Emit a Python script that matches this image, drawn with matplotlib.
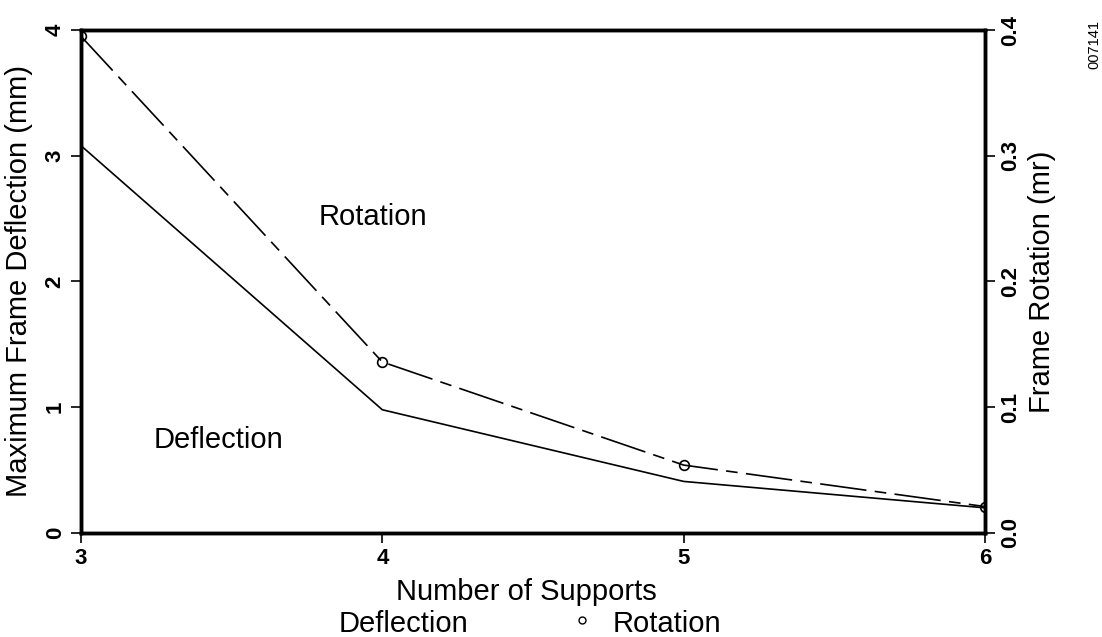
import matplotlib
matplotlib.use("Agg")
import matplotlib.pyplot as plt
from matplotlib.lines import Line2D

plt.rcParams['font.family'] = ['Liberation Sans', 'DejaVu Sans']

supports = [3, 4, 5, 6]
deflection_mm = [3.08, 0.98, 0.41, 0.20]
rotation_mr = [0.395, 0.136, 0.054, 0.021]

x_ticks = [3, 4, 5, 6]
left_ticks = [0, 1, 2, 3, 4]
left_tick_labels = ['0', '1', '2', '3', '4']
right_ticks = [0.0, 0.1, 0.2, 0.3, 0.4]
right_tick_labels = ['0.0', '0.1', '0.2', '0.3', '0.4']

LABEL_SIZE = 21
TICK_SIZE = 16

fig = plt.figure(figsize=(11.02, 6.37), dpi=100)
ax = fig.add_axes([0.0735, 0.1633, 0.8203, 0.7896])
ax2 = ax.twinx()

ax.plot(supports, deflection_mm, color='black', lw=1.2, solid_joinstyle='miter')
rot_line, = ax2.plot(supports, rotation_mr, color='black', lw=1.2,
                     marker='o', markersize=7, markerfacecolor='none',
                     markeredgewidth=1.2)
rot_line.set_dashes([28, 5, 7, 5])

ax.set_xlim(3, 6)
ax.set_ylim(0, 4)
ax2.set_ylim(0, 0.4)

ax.set_xticks(x_ticks)
ax.set_xticklabels([str(v) for v in x_ticks], fontsize=TICK_SIZE, fontweight='bold')
ax.set_yticks(left_ticks)
ax.set_yticklabels(left_tick_labels, fontsize=TICK_SIZE, fontweight='bold',
                   rotation=90, va='center')
ax2.set_yticks(right_ticks)
ax2.set_yticklabels(right_tick_labels, fontsize=TICK_SIZE, fontweight='bold',
                    rotation=90, va='center')

for a in (ax, ax2):
    for s in a.spines.values():
        s.set_linewidth(2.5)
    a.tick_params(direction='out', length=7, width=1.2, pad=4)

ax.set_xlabel('Number of Supports', fontsize=LABEL_SIZE, va='center')
ax.xaxis.set_label_coords(0.493, -0.117)
ax.set_ylabel('Maximum Frame Deflection (mm)', fontsize=LABEL_SIZE, va='center')
ax.yaxis.set_label_coords(-0.069, 0.5)
ax2.set_ylabel('Frame Rotation (mr)', fontsize=LABEL_SIZE, rotation=90, va='center')
ax2.yaxis.set_label_coords(1.063, 0.5)

ax.text(3.969, 2.51, 'Rotation', fontsize=LABEL_SIZE, ha='center', va='center')
ax.text(3.455, 0.74, 'Deflection', fontsize=LABEL_SIZE, ha='center', va='center')

# legend row below the x-axis label
fig.text(0.366, 0.0204, 'Deflection', fontsize=LABEL_SIZE, ha='center', va='center')
fig.lines.append(Line2D([0.528], [0.0267], transform=fig.transFigure,
                        marker='o', markersize=5, markerfacecolor='none',
                        markeredgecolor='black', markeredgewidth=1.0,
                        linestyle='none'))
fig.text(0.605, 0.0204, 'Rotation', fontsize=LABEL_SIZE, ha='center', va='center')

fig.text(0.993, 0.93, '007141', fontsize=10.5, rotation=90, ha='center', va='center')

fig.savefig('out.png', dpi=100)
